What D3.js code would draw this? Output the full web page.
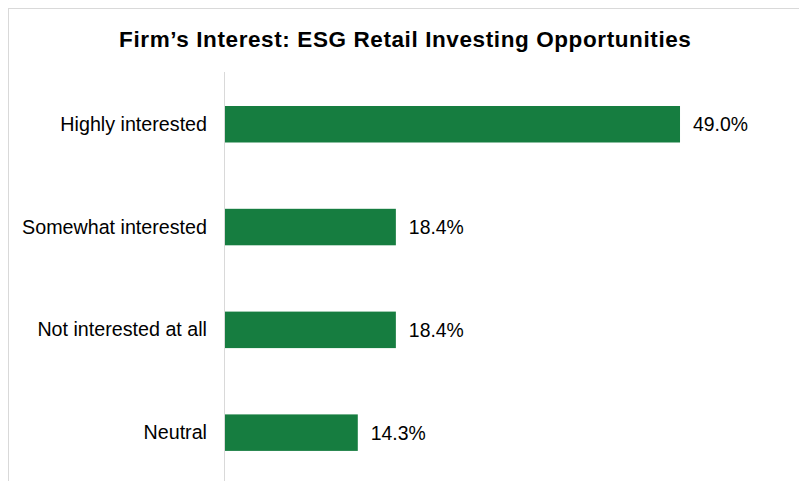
<!DOCTYPE html>
<html>
<head>
<meta charset="utf-8">
<script src="https://cdn.jsdelivr.net/npm/d3@7"></script>
<style>
  html, body { margin: 0; padding: 0; background: #fff; }
  svg { display: block; font-family: "Liberation Sans", Arial, sans-serif; }
</style>
</head>
<body>
<svg id="chart" width="799" height="481"></svg>
<script>
// Survey responses: firm interest in ESG retail investing opportunities
const categories = ["Highly interested", "Somewhat interested", "Not interested at all", "Neutral"];
const shares = [49.0, 18.4, 18.4, 14.3];
const valueLabels = ["49.0%", "18.4%", "18.4%", "14.3%"];
const titleText = "Firm\u2019s Interest: ESG Retail Investing Opportunities";

const data = categories.map((c, i) => ({ category: c, value: shares[i], label: valueLabels[i] }));

const svg = d3.select("#chart");
const W = 799, H = 481;

// outer chart frame (extends past the right and bottom edges)
svg.append("rect")
  .attr("x", 8.5).attr("y", 8.5)
  .attr("width", W + 20).attr("height", H + 20)
  .attr("fill", "#fff")
  .attr("stroke", "#d9d9d9")
  .attr("stroke-width", 1);

const x = d3.scaleLinear().domain([0, 50]).range([225, 689.3]);
const y = d3.scaleBand()
  .domain(categories)
  .range([72.85, 484.05])
  .paddingInner(0.645)
  .paddingOuter(0.3225);

// title
svg.append("text")
  .attr("x", 405.3).attr("y", 46.8)
  .attr("text-anchor", "middle")
  .attr("font-size", 22.5)
  .attr("font-weight", "bold")
  .attr("letter-spacing", 0.6)
  .attr("fill", "#000")
  .text(titleText);

// bars
svg.append("g").selectAll("rect")
  .data(data)
  .join("rect")
  .attr("x", x(0))
  .attr("y", d => y(d.category))
  .attr("width", d => x(d.value) - x(0))
  .attr("height", y.bandwidth())
  .attr("fill", "#167d40");

// category labels via a left axis with no domain or ticks
const yAxis = d3.axisLeft(y).tickSize(0).tickPadding(17.5);
const gAxis = svg.append("g")
  .attr("transform", `translate(${x(0) - 0.5},0)`)
  .call(yAxis);
gAxis.select(".domain").remove();
gAxis.selectAll("text")
  .attr("font-family", "'Liberation Sans', Arial, sans-serif")
  .attr("font-size", 19.7)
  .attr("fill", "#000")
  .attr("dy", "0.33em");

// vertical axis line
svg.append("line")
  .attr("x1", x(0) - 0.5).attr("x2", x(0) - 0.5)
  .attr("y1", 72).attr("y2", H + 5)
  .attr("stroke", "#d9d9d9")
  .attr("stroke-width", 1);

// value labels
svg.append("g").selectAll("text")
  .data(data)
  .join("text")
  .attr("x", d => x(d.value) + 13)
  .attr("y", d => y(d.category) + y.bandwidth() / 2)
  .attr("dy", "0.37em")
  .attr("font-size", 19.4)
  .attr("fill", "#000")
  .text(d => d.label);
</script>
</body>
</html>
